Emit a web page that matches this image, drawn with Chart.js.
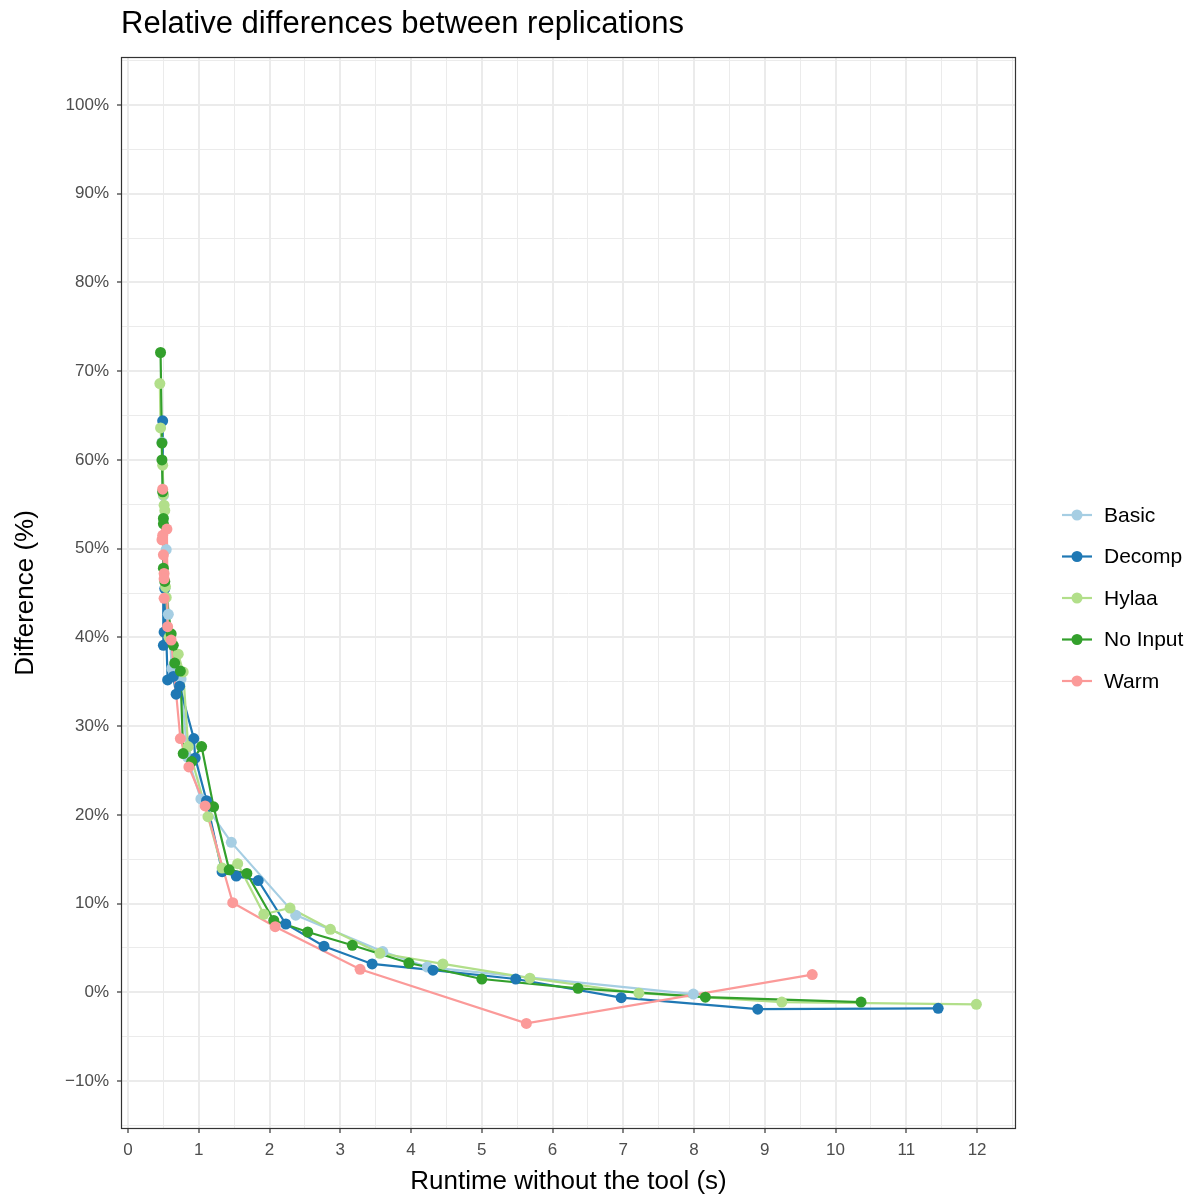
<!DOCTYPE html>
<html>
<head>
<meta charset="utf-8">
<script src="https://cdn.jsdelivr.net/npm/chart.js@4.4.1/dist/chart.umd.min.js"></script>
<style>
  html, body { margin: 0; padding: 0; background: #fff; }
  #wrap { width: 1197px; height: 1198px; }
</style>
</head>
<body>
<div id="wrap"><canvas id="diffChart" width="1197" height="1198"></canvas></div>
<script>
// series names + colours (Paired palette)
var seriesNames = ['Basic', 'Decomp', 'Hylaa', 'No Input', 'Warm'];
var seriesColors = ['#A6CEE3', '#1F78B4', '#B2DF8A', '#33A02C', '#FB9A99'];

// runtime without the tool (s) / difference (%) per replication
var basicRuntime = [0.48, 0.50, 0.54, 0.57, 0.62, 0.75, 0.84, 1.03, 1.46, 2.37, 3.60, 4.23, 7.99];
var basicDiff    = [62.0, 56.0, 49.9, 42.6, 36.5, 35.3, 26.5, 21.8, 16.9, 8.7, 4.6, 2.85, -0.2];

var decompRuntime = [0.49, 0.50, 0.51, 0.52, 0.56, 0.64, 0.68, 0.73, 0.93, 0.95, 1.11, 1.33, 1.53, 1.84, 2.23, 2.77, 3.45, 4.31, 5.48, 6.97, 8.90, 11.45];
var decompDiff    = [64.4, 39.1, 40.6, 45.5, 35.2, 35.6, 33.6, 34.5, 28.6, 26.4, 21.6, 13.6, 13.1, 12.6, 7.7, 5.2, 3.2, 2.5, 1.5, -0.6, -1.9, -1.8];

var hylaaRuntime = [0.45, 0.46, 0.49, 0.50, 0.51, 0.52, 0.53, 0.54, 0.58, 0.71, 0.78, 0.85, 1.13, 1.33, 1.55, 1.92, 2.29, 2.86, 3.56, 4.45, 5.68, 7.22, 9.24, 11.99];
var hylaaDiff    = [68.6, 63.6, 59.4, 56.1, 54.9, 54.3, 45.7, 44.5, 40.0, 38.1, 36.1, 27.7, 19.8, 14.0, 14.5, 8.8, 9.5, 7.1, 4.4, 3.2, 1.6, -0.1, -1.1, -1.35];

var noInputRuntime = [0.46, 0.48, 0.48, 0.49, 0.50, 0.50, 0.50, 0.52, 0.61, 0.64, 0.66, 0.74, 0.78, 0.90, 1.04, 1.21, 1.43, 1.68, 2.06, 2.54, 3.17, 3.97, 5.00, 6.36, 8.16, 10.36];
var noInputDiff    = [72.1, 61.9, 60.0, 56.4, 53.4, 52.8, 47.8, 46.3, 40.4, 39.1, 37.1, 36.2, 26.9, 26.0, 27.7, 20.9, 13.8, 13.4, 8.1, 6.8, 5.3, 3.3, 1.5, 0.45, -0.55, -1.1];

var warmRuntime = [0.48, 0.49, 0.49, 0.50, 0.51, 0.51, 0.51, 0.55, 0.56, 0.61, 0.74, 0.86, 1.09, 1.48, 2.08, 3.28, 5.63, 9.67];
var warmDiff    = [51.0, 56.7, 51.5, 49.3, 47.2, 46.6, 44.4, 52.2, 41.2, 39.7, 28.6, 25.4, 21.0, 10.1, 7.4, 2.6, -3.5, 2.0];

// labelled axis breaks
var xTicks = [0, 1, 2, 3, 4, 5, 6, 7, 8, 9, 10, 11, 12];
var yTicks = [-10, 0, 10, 20, 30, 40, 50, 60, 70, 80, 90, 100];

var allRuntime = [basicRuntime, decompRuntime, hylaaRuntime, noInputRuntime, warmRuntime];
var allDiff = [basicDiff, decompDiff, hylaaDiff, noInputDiff, warmDiff];

var FONT = '"Liberation Sans", Arial, sans-serif';

// points sorted by runtime, the way the lines join them
function toPoints(xs, ys) {
  var pts = xs.map(function(x, i) { return { x: x, y: ys[i] }; });
  pts.sort(function(a, b) { return a.x - b.x; });
  return pts;
}

// major breaks plus the half-way minor breaks inside [min, max]
function withMinor(major, min, max) {
  var step = major[1] - major[0];
  var out = [];
  var v;
  for (v = major[0] - step / 2; v >= min; v -= step / 2) out.unshift(v);
  major.forEach(function(m) {
    out.push(m);
    if (m + step / 2 <= max) out.push(m + step / 2);
  });
  return out.filter(function(t) { return t >= min && t <= max; });
}

function isMajor(list, v) {
  return list.some(function(m) { return Math.abs(m - v) < 1e-9; });
}

var datasets = [];
// lines first, every series
seriesNames.forEach(function(name, i) {
  datasets.push({
    label: name,
    data: toPoints(allRuntime[i], allDiff[i]),
    borderColor: seriesColors[i],
    backgroundColor: seriesColors[i],
    borderWidth: 2.2,
    pointRadius: 0,
    showLine: true,
    order: 20 - i
  });
});
// then the points on top
seriesNames.forEach(function(name, i) {
  datasets.push({
    label: name + ' points',
    data: toPoints(allRuntime[i], allDiff[i]),
    borderColor: seriesColors[i],
    backgroundColor: seriesColors[i],
    borderWidth: 0,
    pointRadius: 5.5,
    showLine: false,
    order: 10 - i
  });
});

var X_MIN = -0.099, X_MAX = 12.55;
var Y_MIN = -15.4, Y_MAX = 105.4;

// panel border, title and legend
var decorations = {
  id: 'decorations',
  afterDraw: function(chart) {
    var ctx = chart.ctx;
    var a = chart.chartArea;
    ctx.save();
    ctx.strokeStyle = '#333333';
    ctx.lineWidth = 1.2;
    ctx.strokeRect(a.left + 0.5, a.top + 0.5, a.right - a.left - 1, a.bottom - a.top - 1);

    ctx.fillStyle = '#000';
    ctx.font = '31px ' + FONT;
    ctx.textBaseline = 'alphabetic';
    ctx.textAlign = 'left';
    ctx.fillText('Relative differences between replications', 121, 33);

    ctx.font = '21px ' + FONT;
    ctx.textBaseline = 'middle';
    seriesNames.forEach(function(name, i) {
      var y = 515 + i * 41.5;
      ctx.strokeStyle = seriesColors[i];
      ctx.lineWidth = 2.2;
      ctx.beginPath();
      ctx.moveTo(1062, y);
      ctx.lineTo(1092, y);
      ctx.stroke();
      ctx.fillStyle = seriesColors[i];
      ctx.beginPath();
      ctx.arc(1077, y, 5.5, 0, Math.PI * 2);
      ctx.fill();
      ctx.fillStyle = '#000';
      ctx.fillText(name, 1104, y + 1);
    });
    ctx.restore();
  }
};

new Chart(document.getElementById('diffChart'), {
  type: 'scatter',
  data: { datasets: datasets },
  options: {
    responsive: false,
    animation: false,
    devicePixelRatio: 1,
    layout: { padding: { left: 0, right: 181, top: 57, bottom: 0 } },
    plugins: {
      legend: { display: false },
      tooltip: { enabled: false }
    },
    scales: {
      x: {
        type: 'linear',
        min: X_MIN,
        max: X_MAX,
        afterBuildTicks: function(scale) {
          scale.ticks = withMinor(xTicks, X_MIN, X_MAX).map(function(v) { return { value: v }; });
        },
        afterFit: function(scale) { scale.height = 69; },
        border: { display: false },
        grid: {
          color: '#EBEBEB',
          lineWidth: function(c) { return isMajor(xTicks, c.tick.value) ? 2 : 1; },
          tickColor: function(c) { return isMajor(xTicks, c.tick.value) ? '#333333' : 'rgba(0,0,0,0)'; },
          tickLength: 4,
          tickWidth: 1.2
        },
        ticks: {
          autoSkip: false,
          maxRotation: 0,
          padding: 7,
          color: '#4D4D4D',
          font: { family: FONT, size: 17 },
          callback: function(v) { return isMajor(xTicks, v) ? String(Math.round(v)) : ''; }
        },
        title: {
          display: true,
          text: 'Runtime without the tool (s)',
          color: '#000',
          font: { family: FONT, size: 26 },
          padding: { top: 0, bottom: 1 }
        }
      },
      y: {
        type: 'linear',
        min: Y_MIN,
        max: Y_MAX,
        afterBuildTicks: function(scale) {
          scale.ticks = withMinor(yTicks, Y_MIN, Y_MAX).map(function(v) { return { value: v }; });
        },
        afterFit: function(scale) { scale.width = 121; },
        border: { display: false },
        grid: {
          color: '#EBEBEB',
          lineWidth: function(c) { return isMajor(yTicks, c.tick.value) ? 2 : 1; },
          tickColor: function(c) { return isMajor(yTicks, c.tick.value) ? '#333333' : 'rgba(0,0,0,0)'; },
          tickLength: 4,
          tickWidth: 1.2
        },
        ticks: {
          autoSkip: false,
          padding: 8,
          color: '#4D4D4D',
          font: { family: FONT, size: 17 },
          callback: function(v) {
            if (!isMajor(yTicks, v)) return '';
            var r = Math.round(v);
            return (r < 0 ? '\u2212' + Math.abs(r) : r) + '%';
          }
        },
        title: {
          display: true,
          text: 'Difference (%)',
          color: '#000',
          font: { family: FONT, size: 26 },
          padding: { top: 10, bottom: 0 }
        }
      }
    }
  },
  plugins: [decorations]
});
</script>
</body>
</html>
